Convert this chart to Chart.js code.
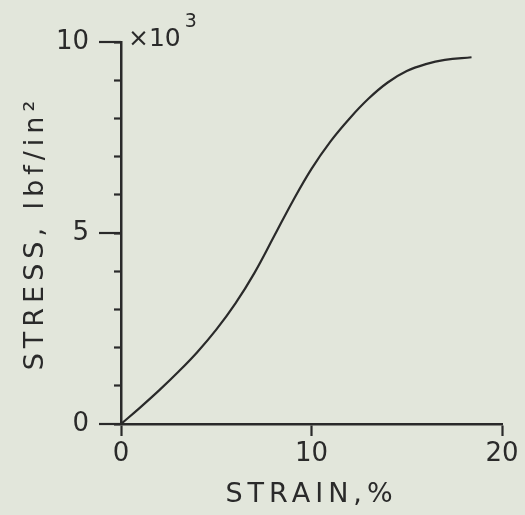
<!DOCTYPE html>
<html lang="en">
<head>
    <meta charset="UTF-8">
    <title>Stress vs Strain</title>
    <script src="https://cdn.jsdelivr.net/npm/chart.js"></script>
    <style>
        html, body {
            margin: 0;
            padding: 0;
            background: #e2e6db;
        }
        .chart-container {
            width: 525px;
            height: 515px;
        }
    </style>
</head>
<body>

<div class="chart-container">
    <canvas id="stressStrainChart"></canvas>
</div>

<script>
    // Strain (%) and stress (x10^3 lbf/in^2)
    const strain = [0, 1, 2, 3, 4, 5, 6, 7, 8, 9, 10, 11, 12, 13, 14, 15, 16, 17, 18.4];
    const stress = [0, 0.43, 0.88, 1.36, 1.88, 2.47, 3.15, 3.95, 4.88, 5.82, 6.68, 7.4, 8.0, 8.52, 8.94, 9.24, 9.42, 9.53, 9.6];

    // Labelled ticks on each axis
    const stressLabels = [0, 5, 10];
    const strainLabels = [0, 10, 20];

    const ink = '#2a2a2a';
    const handFont = "'DejaVu Sans', sans-serif";

    // Linear scale that spreads out the letters of its title like hand lettering
    class HandScale extends Chart.LinearScale {
        drawTitle() {
            this.ctx.save();
            this.ctx.letterSpacing = '5px';
            super.drawTitle();
            this.ctx.restore();
        }
    }
    HandScale.id = 'hand';
    HandScale.defaults = Chart.LinearScale.defaults;
    Chart.register(HandScale);

    // Paper background
    const paper = {
        id: 'paper',
        beforeDraw(chart) {
            const ctx = chart.ctx;
            ctx.save();
            ctx.fillStyle = '#e2e6db';
            ctx.fillRect(0, 0, chart.width, chart.height);
            ctx.restore();
        }
    };

    // Longer ticks at the labelled stress values, plus the x10^3 multiplier
    const majorTicks = {
        id: 'majorTicks',
        afterDraw(chart) {
            const y = chart.scales.y;
            const ctx = chart.ctx;
            ctx.save();
            ctx.strokeStyle = ink;
            ctx.lineWidth = 2.2;
            stressLabels.forEach(v => {
                const py = y.getPixelForValue(v);
                ctx.beginPath();
                ctx.moveTo(y.right, py);
                ctx.lineTo(y.right - 22, py);
                ctx.stroke();
            });

            const top = y.getPixelForValue(stressLabels[stressLabels.length - 1]);
            ctx.fillStyle = ink;
            ctx.textBaseline = 'middle';
            ctx.textAlign = 'left';
            ctx.font = "25px " + handFont;
            ctx.fillText('×10', y.right + 7, top - 3);
            const w = ctx.measureText('×10').width;
            ctx.font = "19px " + handFont;
            ctx.fillText('3', y.right + 11 + w, top - 20);
            ctx.restore();
        }
    };

    const config = {
        type: 'line',
        data: {
            datasets: [{
                label: 'Stress',
                data: strain.map((x, i) => ({ x: x, y: stress[i] })),
                borderColor: ink,
                borderWidth: 2.2,
                pointRadius: 0,
                fill: false,
                tension: 0.4
            }]
        },
        options: {
            responsive: true,
            maintainAspectRatio: false,
            animation: false,
            layout: {
                padding: { top: 42, right: 23, left: 0, bottom: 0 }
            },
            scales: {
                x: {
                    type: 'hand',
                    min: 0,
                    max: 20,
                    afterFit: (scale) => { scale.height = 91; },
                    afterBuildTicks: (scale) => {
                        scale.ticks = strainLabels.map(v => ({ value: v }));
                    },
                    grid: {
                        drawOnChartArea: false,
                        drawTicks: true,
                        tickLength: 12,
                        tickWidth: 2.2,
                        tickColor: ink
                    },
                    border: { display: true, color: ink, width: 2.5 },
                    ticks: {
                        color: ink,
                        padding: 3,
                        maxRotation: 0,
                        font: { family: handFont, size: 26 }
                    },
                    title: {
                        display: true,
                        text: 'STRAIN,%',
                        color: ink,
                        padding: { top: 0, bottom: 4 },
                        font: { family: handFont, size: 27 }
                    }
                },
                y: {
                    type: 'hand',
                    min: 0,
                    max: 10,
                    afterFit: (scale) => { scale.width = 121; },
                    grid: {
                        drawOnChartArea: false,
                        drawTicks: true,
                        tickLength: 7,
                        tickWidth: 2.2,
                        tickColor: ink
                    },
                    border: { display: true, color: ink, width: 2.5 },
                    ticks: {
                        stepSize: 1,
                        color: ink,
                        padding: 25,
                        autoSkip: false,
                        font: { family: handFont, size: 26 },
                        callback: (v) => stressLabels.includes(v) ? v : ''
                    },
                    title: {
                        display: true,
                        text: 'STRESS, lbf/in²',
                        color: ink,
                        padding: { top: 20, bottom: 0 },
                        font: { family: handFont, size: 27 }
                    }
                }
            },
            plugins: {
                legend: { display: false },
                tooltip: { enabled: false }
            }
        },
        plugins: [paper, majorTicks]
    };

    const stressStrainChart = new Chart(
        document.getElementById('stressStrainChart'),
        config
    );
</script>

</body>
</html>
